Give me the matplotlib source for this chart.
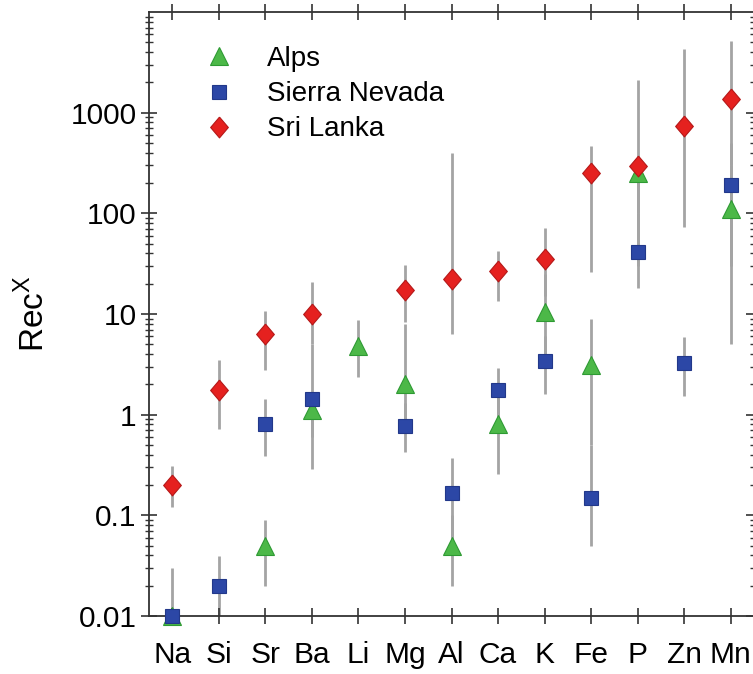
import matplotlib.pyplot as plt
import numpy as np

plt.rcParams['font.family'] = ['Liberation Sans', 'DejaVu Sans']

elements = ["Na", "Si", "Sr", "Ba", "Li", "Mg", "Al", "Ca", "K", "Fe", "P", "Zn", "Mn"]

# Rec^X values per region (nan = no data) with lower / upper ends of the range bars
alps = [0.01, np.nan, 0.05, 1.1, 4.8, 2.0, 0.05, 0.8, 10.4, 3.1, 250, np.nan, 111]
alps_lo = [0.01, np.nan, 0.02, 0.29, 2.35, 0.9, 0.02, 0.26, 3.0, 0.5, 30, np.nan, 5.07]
alps_hi = [0.01, np.nan, 0.09, 1.5, 8.8, 7.9, 0.1, 1.5, 25, 9.0, 300, np.nan, 300]

sierra = [0.01, 0.02, 0.8, 1.42, np.nan, 0.77, 0.167, 1.75, 3.4, 0.15, 41, 3.24, 193]
sierra_lo = [0.005, 0.005, 0.39, 0.6, np.nan, 0.43, 0.05, 1.0, 1.6, 0.05, 18, 1.53, 30]
sierra_hi = [0.03, 0.039, 1.42, 5.0, np.nan, 1.3, 0.37, 2.9, 6.0, 0.5, 100, 5.9, 500]

srilanka = [0.2, 1.75, 6.4, 10.1, np.nan, 17.5, 22.5, 26.5, 34.8, 254, 293, 742, 1370]
srilanka_lo = [0.12, 0.72, 2.8, 5.0, np.nan, 8.3, 6.3, 13.4, 15, 26, 100, 72.8, 300]
srilanka_hi = [0.31, 3.46, 10.6, 20.6, np.nan, 30.5, 401, 41.9, 72, 470, 2130, 4300, 5100]

diamond = [(0, 1), (0.85, 0), (0, -1), (-0.85, 0), (0, 1)]

fig = plt.figure(figsize=(7.53, 6.74), dpi=100)
ax = fig.add_axes([149 / 753, 58 / 674, 605 / 753, 604 / 674])

x = np.arange(len(elements))
series = [
    ("Alps", alps, alps_lo, alps_hi, "^", "#4cb848", "#2e9a33", 13.5, 2),
    ("Sierra Nevada", sierra, sierra_lo, sierra_hi, "s", "#2c47a6", "#22388a", 9.5, 3),
    ("Sri Lanka", srilanka, srilanka_lo, srilanka_hi, diamond, "#e5211f", "#b51818", 15, 4),
]

for name, vals, lo, hi, mk, fc, ec, ms, z in series:
    ax.vlines(x, lo, hi, color="#a4a4a4", lw=2, zorder=1)

for name, vals, lo, hi, mk, fc, ec, ms, z in series:
    ax.plot(x, vals, ls="none", marker=mk, ms=ms, mfc=fc, mec=ec, mew=0.8,
            zorder=z, label=name, clip_on=False)

ax.set_yscale("log")
ax.set_ylim(0.01, 10000)
ax.set_xlim(-0.5, 12.5)
ax.set_xticks(x)
ax.set_xticklabels(elements)
ax.set_yticks([0.01, 0.1, 1, 10, 100, 1000])
ax.set_yticklabels(["0.01", "0.1", "1", "10", "100", "1000"])
ax.tick_params(axis="both", which="major", direction="inout", length=12, width=1.2,
               labelsize=21.5, top=True, right=True, color="#333333")
ax.tick_params(axis="y", which="minor", direction="inout", length=6, width=1.0,
               right=True, color="#333333")
ax.tick_params(axis="x", which="major", pad=12)
ax.tick_params(axis="y", which="major", pad=3)
for s in ax.spines.values():
    s.set_linewidth(1.3)
    s.set_color("#333333")

ax.set_ylabel("Rec$^\\mathregular{X}$", fontsize=24, labelpad=14)

ax.legend(loc="upper left", bbox_to_anchor=(0.052, 0.962), frameon=False, fontsize=20,
          handletextpad=0.72, labelspacing=0.33, borderaxespad=0)

fig.savefig("out.png", dpi=100)
